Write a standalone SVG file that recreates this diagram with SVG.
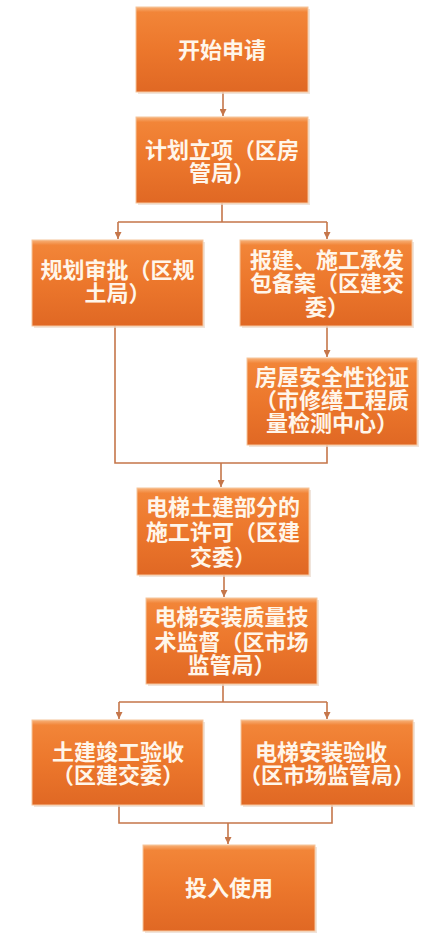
<svg xmlns="http://www.w3.org/2000/svg" width="446" height="951" viewBox="0 0 446 951">
<defs>
<linearGradient id="g" x1="0" y1="0" x2="0" y2="1">
<stop offset="0" stop-color="#F7B27A"/>
<stop offset="0.06" stop-color="#F28538"/>
<stop offset="0.5" stop-color="#EC772C"/>
<stop offset="1" stop-color="#E06824"/>
</linearGradient>
<marker id="a" viewBox="0 0 10 10" refX="10" refY="5" markerWidth="7" markerHeight="7" markerUnits="userSpaceOnUse" orient="auto">
<path d="M0,0 L10,5 L0,10 z" fill="#C5764A"/>
</marker>
<style>
.box{fill:url(#g);stroke:#F6C59C;stroke-width:1}
.sh{fill:#E9D9CC;opacity:0.7}
.t{font-family:"Noto Sans CJK SC","Noto Sans",sans-serif;font-size:22px;font-weight:bold;fill:#FFF6EA;text-anchor:middle}
.c{fill:none;stroke:#C5764A;stroke-width:1.6}
</style>
</defs>
<rect width="446" height="951" fill="#FFFFFF"/>
<g id="connectors">
<path class="c" d="M223,92 V116" marker-end="url(#a)"/>
<path class="c" d="M222,203 V222 M118,222 H327"/>
<path class="c" d="M118,222 V239" marker-end="url(#a)"/>
<path class="c" d="M327,222 V239" marker-end="url(#a)"/>
<path class="c" d="M327,326 V357" marker-end="url(#a)"/>
<path class="c" d="M115,326 V463 H327 V445"/>
<path class="c" d="M221,463 V487" marker-end="url(#a)"/>
<path class="c" d="M224,575 V597" marker-end="url(#a)"/>
<path class="c" d="M223,684 V702 M119,702 H327"/>
<path class="c" d="M119,702 V719" marker-end="url(#a)"/>
<path class="c" d="M327,702 V719" marker-end="url(#a)"/>
<path class="c" d="M119,805 V823 H332 V805"/>
<path class="c" d="M228,823 V844" marker-end="url(#a)"/>
</g>
<g id="n1">
<rect class="sh" x="138" y="9" width="172" height="85"/>
<rect class="box" x="136" y="7" width="172" height="85"/>
<text class="t" x="222" y="58">开始申请</text>
</g>
<g id="n2">
<rect class="sh" x="138" y="119" width="172" height="86"/>
<rect class="box" x="136" y="117" width="172" height="86"/>
<text class="t"><tspan x="222" y="158">计划立项（区房</tspan><tspan x="222" y="181">管局）</tspan></text>
</g>
<g id="n3">
<rect class="sh" x="34" y="242" width="171" height="86"/>
<rect class="box" x="32" y="240" width="171" height="86"/>
<text class="t"><tspan x="117.5" y="278">规划审批（区规</tspan><tspan x="117.5" y="301">土局）</tspan></text>
</g>
<g id="n4">
<rect class="sh" x="242" y="242" width="172" height="86"/>
<rect class="box" x="240" y="240" width="172" height="86"/>
<text class="t"><tspan x="327" y="268">报建、施工承发</tspan><tspan x="327" y="291">包备案（区建交</tspan><tspan x="327" y="315">委）</tspan></text>
</g>
<g id="n5">
<rect class="sh" x="249" y="360" width="170" height="87"/>
<rect class="box" x="247" y="358" width="170" height="87"/>
<text class="t"><tspan x="332" y="385">房屋安全性论证</tspan><tspan x="332" y="408">（市修缮工程质</tspan><tspan x="332" y="431">量检测中心）</tspan></text>
</g>
<g id="n6">
<rect class="sh" x="139" y="490" width="172" height="87"/>
<rect class="box" x="137" y="488" width="172" height="87"/>
<text class="t"><tspan x="223" y="515">电梯土建部分的</tspan><tspan x="223" y="540">施工许可（区建</tspan><tspan x="223" y="565">交委）</tspan></text>
</g>
<g id="n7">
<rect class="sh" x="148" y="600" width="171" height="86"/>
<rect class="box" x="146" y="598" width="171" height="86"/>
<text class="t"><tspan x="231.5" y="625">电梯安装质量技</tspan><tspan x="231.5" y="650">术监督（区市场</tspan><tspan x="231.5" y="673">监管局）</tspan></text>
</g>
<g id="n8">
<rect class="sh" x="34" y="722" width="171" height="85"/>
<rect class="box" x="32" y="720" width="171" height="85"/>
<text class="t"><tspan x="118" y="760">土建竣工验收</tspan><tspan x="118" y="783">（区建交委）</tspan></text>
</g>
<g id="n9">
<rect class="sh" x="243" y="722" width="172" height="85"/>
<rect class="box" x="241" y="720" width="172" height="85"/>
<text class="t"><tspan x="321" y="760">电梯安装验收</tspan><tspan x="327" y="783">（区市场监管局）</tspan></text>
</g>
<g id="n10">
<rect class="sh" x="145" y="847" width="172" height="86"/>
<rect class="box" x="143" y="845" width="172" height="86"/>
<text class="t" x="229" y="896">投入使用</text>
</g>
</svg>
